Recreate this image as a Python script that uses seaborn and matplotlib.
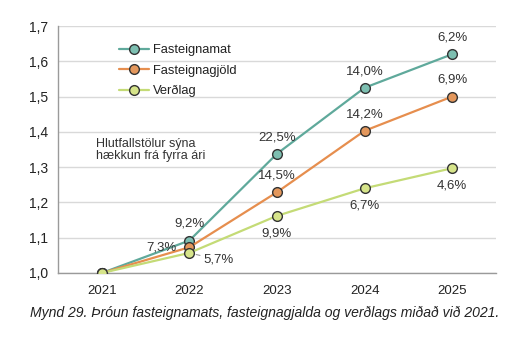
import matplotlib
matplotlib.use("Agg")
import matplotlib.pyplot as plt
import seaborn as sns
import pandas as pd
from matplotlib.ticker import FixedLocator

years = ["2021", "2022", "2023", "2024", "2025"]
series_names = ["Fasteignamat", "Fasteignagjöld", "Verðlag"]
fasteignamat = [1.000, 1.092, 1.338, 1.525, 1.620]
fasteignagjold = [1.000, 1.073, 1.229, 1.403, 1.500]
verdlag = [1.000, 1.057, 1.162, 1.240, 1.297]
lbl_fasteignamat = ["", "9,2%", "22,5%", "14,0%", "6,2%"]
lbl_fasteignagjold = ["", "7,3%", "14,5%", "14,2%", "6,9%"]
lbl_verdlag = ["", "5,7%", "9,9%", "6,7%", "4,6%"]
yticks = [1.0, 1.1, 1.2, 1.3, 1.4, 1.5, 1.6, 1.7]
note = "Hlutfallstölur sýna\nhækkun frá fyrra ári"
caption = "Mynd 29. Þróun fasteignamats, fasteignagjalda og verðlags miðað við 2021."

sns.set_style("white")
plt.rcParams["font.family"] = ["Liberation Sans", "DejaVu Sans"]

line_colors = ["#5FA99B", "#E68E4E", "#C4DB76"]
face_colors = ["#7DBFB1", "#E3975C", "#D6E48A"]

fig = plt.figure(figsize=(5.28, 3.61), dpi=100)
ax = fig.add_axes([58/528, 1-273/361, 438/528, 247/361])

df = pd.DataFrame({
    "x": list(range(len(years))) * 3,
    "value": fasteignamat + fasteignagjold + verdlag,
    "series": [s for s in series_names for _ in years],
})

for name, lc, fc in zip(series_names, line_colors, face_colors):
    sub = df[df["series"] == name]
    sns.lineplot(data=sub, x="x", y="value", ax=ax, color=lc, linewidth=1.6,
                 marker="o", markersize=7, markerfacecolor=fc,
                 markeredgecolor="#333333", markeredgewidth=1.0,
                 label=name, zorder=3)

ax.set_xlim(-0.5, 4.5)
ax.set_ylim(1.0, 1.7)
ax.set_yticks(yticks)
ax.set_yticklabels([f"{v:.1f}".replace(".", ",") for v in yticks])
ax.set_xticks(range(len(years)))
ax.set_xticklabels(years)
ax.xaxis.set_minor_locator(FixedLocator([-0.5, 0.5, 1.5, 2.5, 3.5, 4.5]))
ax.tick_params(axis="x", which="major", length=0, pad=9, labelsize=9.5)
ax.tick_params(axis="x", which="minor", length=4, width=1, color="#9A9A9A", direction="out")
ax.tick_params(axis="y", which="major", length=4, width=1, color="#9A9A9A", labelsize=10, pad=3)
for t in ax.get_yticklabels() + ax.get_xticklabels():
    t.set_color("#222222")
ax.set_xlabel("")
ax.set_ylabel("")
ax.grid(axis="y", color="#D9D9D9", linewidth=1.0, zorder=0)
ax.set_axisbelow(True)
for s in ["top", "right"]:
    ax.spines[s].set_visible(False)
for s in ["left", "bottom"]:
    ax.spines[s].set_color("#9A9A9A")
    ax.spines[s].set_linewidth(1.0)

# data labels
fs = 9.5
tc = "#333333"
for i in range(1, 5):
    ax.annotate(lbl_fasteignamat[i], (i, fasteignamat[i]), xytext=(0, 12),
                textcoords="offset points", ha="center", va="center", fontsize=fs, color=tc)
# Fasteignagjöld
ax.annotate(lbl_fasteignagjold[1], (1, fasteignagjold[1]), xytext=(-9, -0.5),
            textcoords="offset points", ha="right", va="center", fontsize=fs, color=tc)
for i in range(2, 5):
    ax.annotate(lbl_fasteignagjold[i], (i, fasteignagjold[i]), xytext=(0, 12),
                textcoords="offset points", ha="center", va="center", fontsize=fs, color=tc)
# Verðlag
ax.annotate(lbl_verdlag[1], (1, verdlag[1]), xytext=(10, -5),
            textcoords="offset points", ha="left", va="center", fontsize=fs, color=tc,
            arrowprops=dict(arrowstyle="-", color="#999999", lw=0.8, shrinkA=0, shrinkB=5))
for i in range(2, 5):
    ax.annotate(lbl_verdlag[i], (i, verdlag[i]), xytext=(0, -12.5),
                textcoords="offset points", ha="center", va="center", fontsize=fs, color=tc)

fig.text(96/528, 1-150/361, note, fontsize=9, color="#333333",
         ha="left", va="center", linespacing=1.1)

leg = ax.legend(loc="upper left", bbox_to_anchor=((114-58)/438, 1-(39-26)/247),
                frameon=False, fontsize=9.3, handlelength=2.3, handletextpad=0.3,
                labelspacing=0.65, borderaxespad=0)
for t in leg.get_texts():
    t.set_color("#222222")

fig.text(30/528, 1-313/361, caption, fontsize=10.1, style="italic", color="#222222",
         ha="left", va="center")

fig.savefig("out.png", dpi=100)
